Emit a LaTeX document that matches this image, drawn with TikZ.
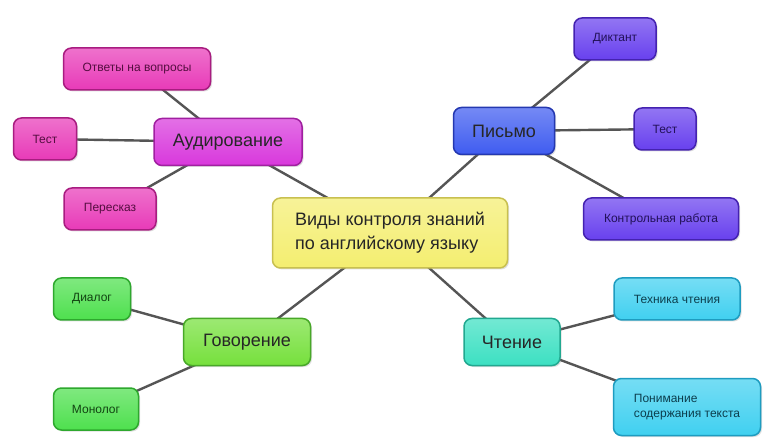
\documentclass[tikz,border=0pt]{standalone}
\usepackage{fontspec}
\setmainfont{Liberation Sans}
\usetikzlibrary{backgrounds,shadows}
\definecolor{ylw}{HTML}{F4EE70}
\definecolor{ylwD}{HTML}{C8C050}
\definecolor{aud}{HTML}{D838DC}
\definecolor{audD}{HTML}{A020A0}
\definecolor{pnk}{HTML}{E83AB8}
\definecolor{pnkD}{HTML}{A81C80}
\definecolor{pis}{HTML}{3F5CF0}
\definecolor{pisD}{HTML}{2438B0}
\definecolor{vio}{HTML}{6840EE}
\definecolor{vioD}{HTML}{4422B0}
\definecolor{gov}{HTML}{76E03C}
\definecolor{govD}{HTML}{48A828}
\definecolor{grn}{HTML}{4EE04E}
\definecolor{grnD}{HTML}{2EA82E}
\definecolor{cht}{HTML}{3CE0C2}
\definecolor{chtD}{HTML}{22A890}
\definecolor{cyn}{HTML}{40D0F0}
\definecolor{cynD}{HTML}{1E9CC0}
\definecolor{lnk}{HTML}{555555}
\tikzset{
  box/.style 2 args={draw=#2, line width=1.5pt, rounded corners=8pt,
    top color=white!28!#1, bottom color=#1, inner sep=0pt, align=left,
    drop shadow={shadow xshift=1.5pt, shadow yshift=-1.5pt, opacity=0.25}},
  mainnode/.style={font=\fontsize{18}{21}\selectfont, minimum height=47pt, text=black!85},
  leaf/.style={font=\fontsize{12}{15}\selectfont, minimum height=42pt},
  link/.style={draw=lnk, line width=2.4pt, line cap=round}
}
\begin{document}
\begin{tikzpicture}[x=1pt,y=-1pt]
\useasboundingbox (0,0) rectangle (771,446);
% center
\node[box={ylw}{ylwD}, font=\fontsize{18}{24}\selectfont, minimum width=235pt, minimum height=70pt, text=black!85] (c) at (390,233) {Виды контроля знаний\\по английскому языку};
% Audirovanie
\node[box={aud}{audD}, mainnode, minimum width=148pt] (a) at (228,142) {Аудирование};
\node[box={pnk}{pnkD}, leaf, minimum width=147pt, text=pnkD!50!black] (a1) at (137,69) {Ответы на вопросы};
\node[box={pnk}{pnkD}, leaf, minimum width=63pt, text=pnkD!50!black] (a2) at (45,139) {Тест};
\node[box={pnk}{pnkD}, leaf, minimum width=92pt, text=pnkD!50!black] (a3) at (110,209) {Пересказ};
% Pismo
\node[box={pis}{pisD}, mainnode, minimum width=101pt] (p) at (504,131) {Письмо};
\node[box={vio}{vioD}, leaf, minimum width=82pt, text=vioD!50!black] (p1) at (615,39) {Диктант};
\node[box={vio}{vioD}, leaf, minimum width=62pt, text=vioD!50!black] (p2) at (665,129) {Тест};
\node[box={vio}{vioD}, leaf, minimum width=155pt, text=vioD!50!black] (p3) at (661,219) {Контрольная работа};
% Govorenie
\node[box={gov}{govD}, mainnode, minimum width=127pt] (g) at (247,342) {Говорение};
\node[box={grn}{grnD}, leaf, minimum width=77pt, text=grnD!40!black] (g1) at (92,299) {Диалог};
\node[box={grn}{grnD}, leaf, minimum width=85pt, text=grnD!40!black] (g2) at (96,409) {Монолог};
% Chtenie
\node[box={cht}{chtD}, mainnode, minimum width=96pt] (t) at (512,342) {Чтение};
\node[box={cyn}{cynD}, leaf, minimum width=126pt, text=cynD!40!black] (t1) at (677,299) {Техника чтения};
\node[box={cyn}{cynD}, leaf, minimum width=147pt, minimum height=57pt, text=cynD!40!black] (t2) at (687,407) {Понимание\\содержания текста};
\begin{scope}[on background layer]
\fill[white] (0,0) rectangle (771,446);
\draw[link] (c.center) -- (a.center);
\draw[link] (c.center) -- (p.center);
\draw[link] (c.center) -- (g.center);
\draw[link] (c.center) -- (t.center);
\draw[link] (a.center) -- (a1.center);
\draw[link] (a.center) -- (a2.center);
\draw[link] (a.center) -- (a3.center);
\draw[link] (p.center) -- (p1.center);
\draw[link] (p.center) -- (p2.center);
\draw[link] (p.center) -- (p3.center);
\draw[link] (g.center) -- (g1.center);
\draw[link] (g.center) -- (g2.center);
\draw[link] (t.center) -- (t1.center);
\draw[link] (t.center) -- (t2.center);
\end{scope}
\end{tikzpicture}
\end{document}
